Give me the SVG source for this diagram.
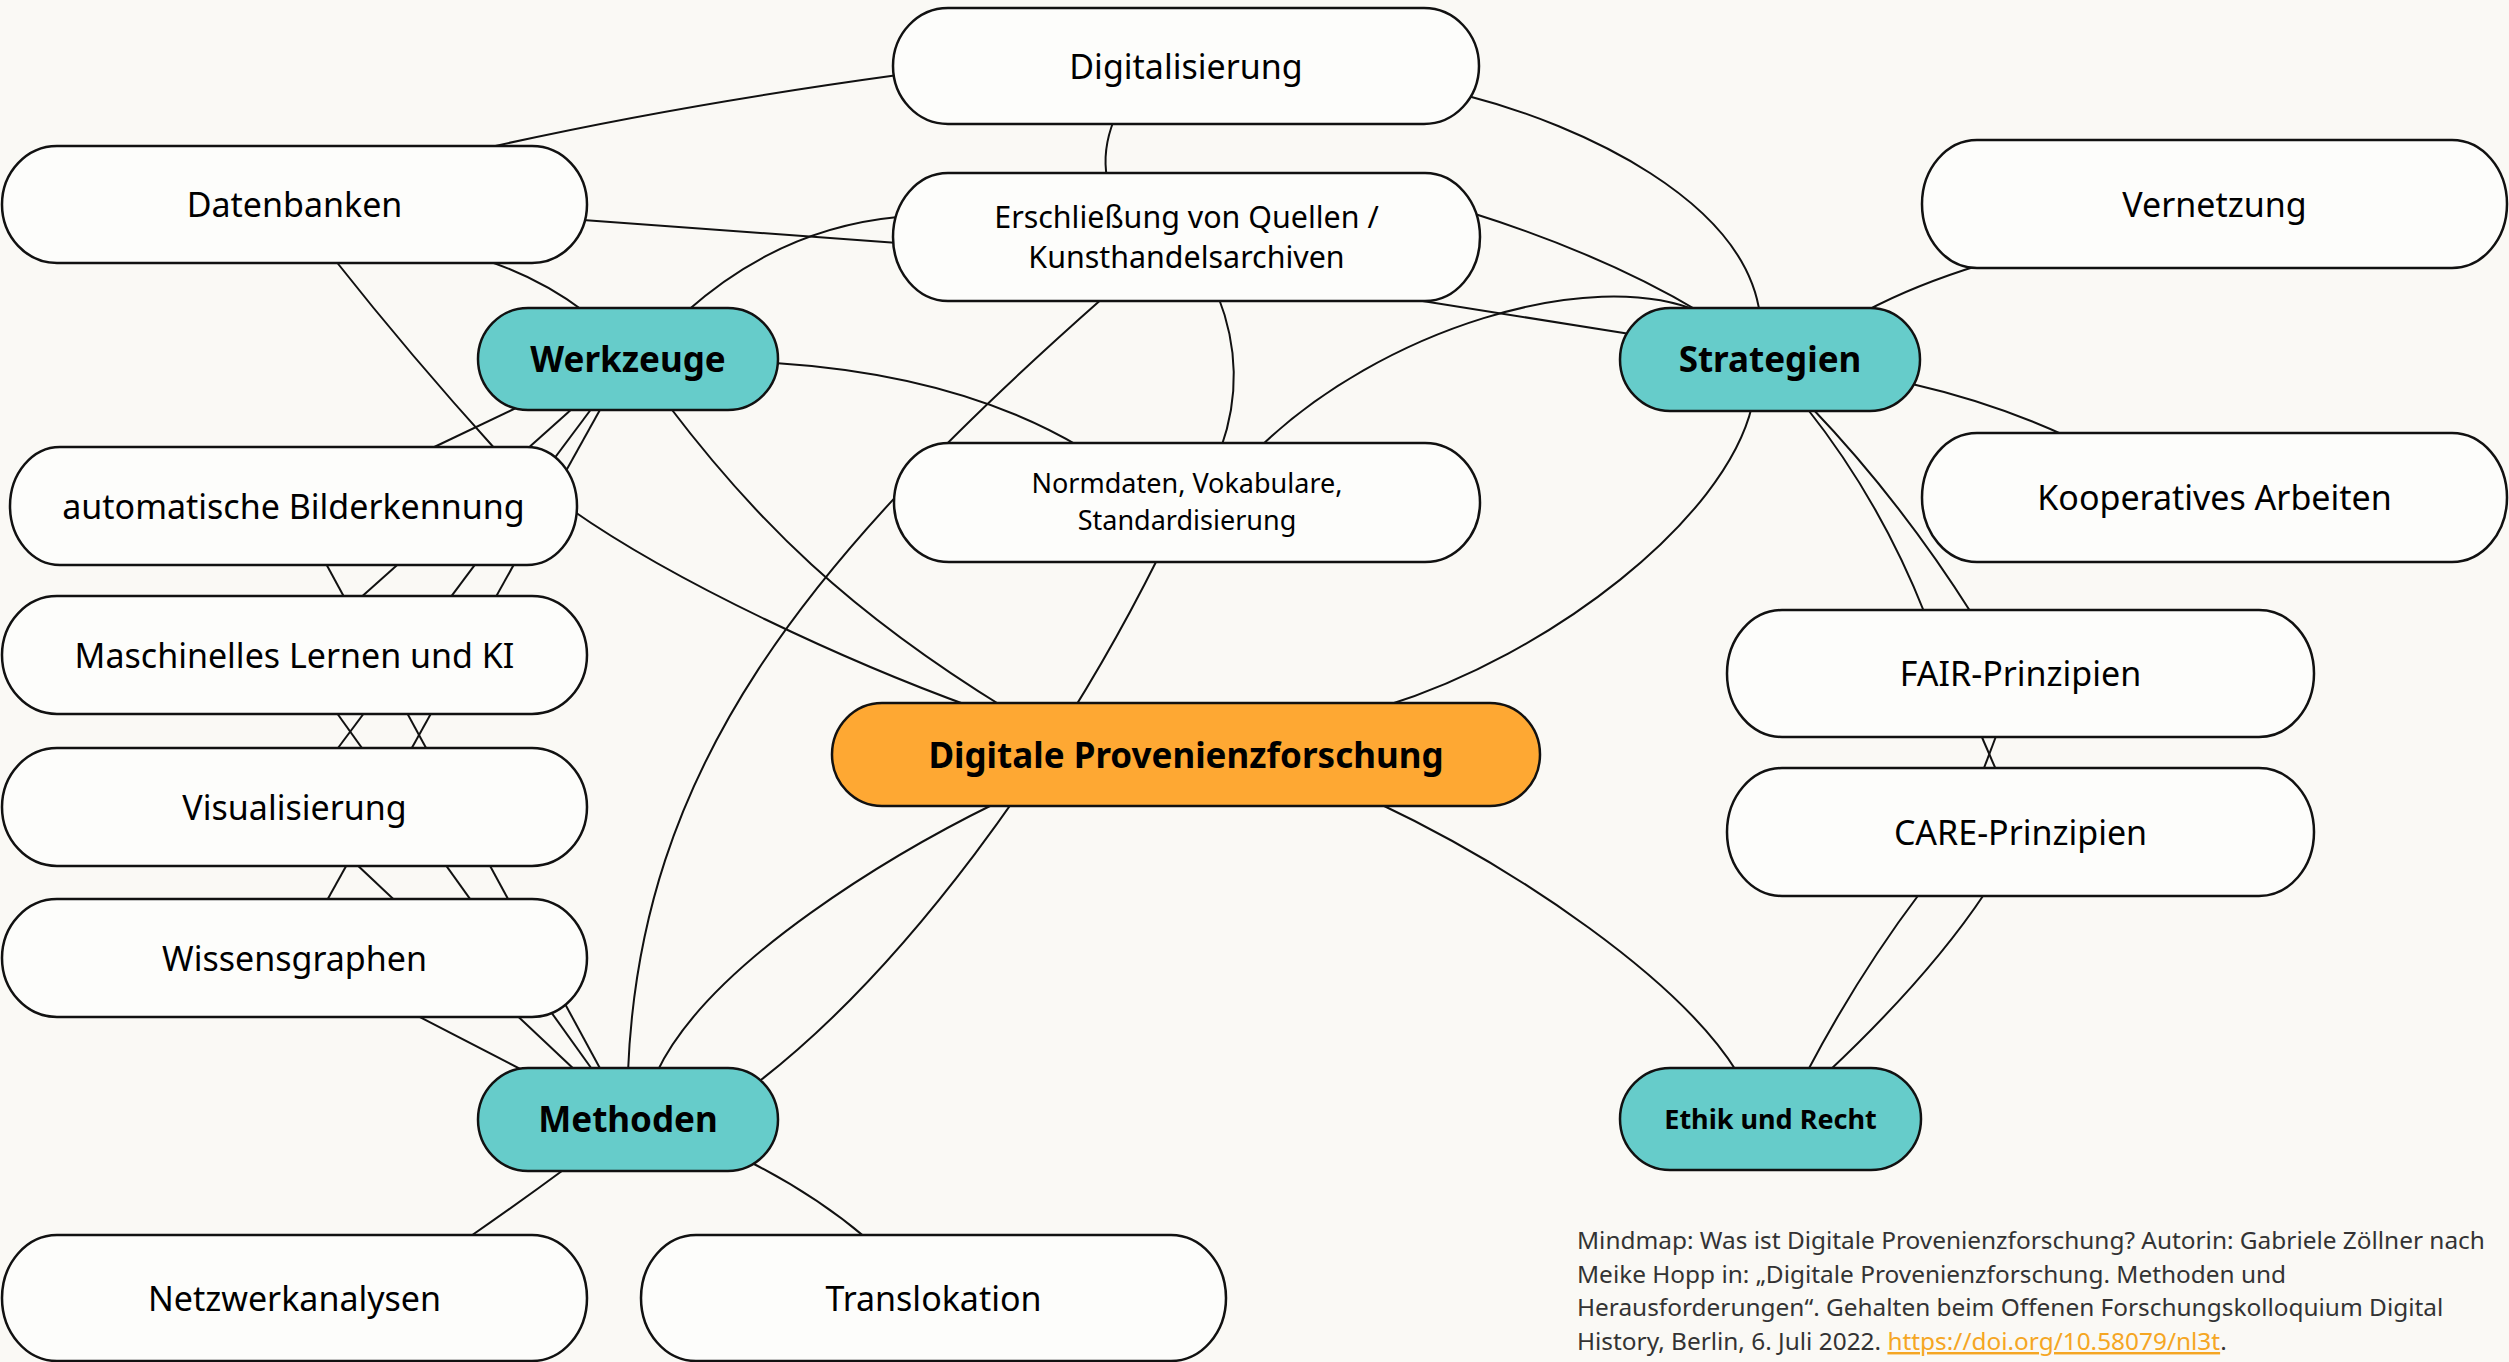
<svg xmlns="http://www.w3.org/2000/svg" width="2509" height="1362" viewBox="0 0 2509 1362">
<style>
.bg{fill:#FAF9F5}
.c{fill:none;stroke:#111;stroke-width:2}
.leaf{fill:#FDFDFB;stroke:#111;stroke-width:2.5}
.hub{fill:#66CCCA;stroke:#111;stroke-width:2.5}
.core{fill:#FEA833;stroke:#111;stroke-width:2.5}
text{font-family:"Noto Sans","Open Sans","DejaVu Sans",sans-serif;fill:#000;text-anchor:middle}
.t{font-size:34px}
.tb{font-size:35px;font-weight:700}
.foot{font-size:24.4px;fill:#333;text-anchor:start}
.link{fill:#F5A623;text-decoration:underline}
</style>
<rect class="bg" x="0" y="0" width="2509" height="1362"/>
<g id="connectors">
<path class="c" d="M486,148 Q672,106 898,75"/>
<path class="c" d="M1114,120 Q1102,150 1107,178"/>
<path class="c" d="M1468,96 C1580,125 1745,200 1760,315"/>
<path class="c" d="M583,220 L898,243"/>
<path class="c" d="M686,312 Q780,228 898,217"/>
<path class="c" d="M485,260 Q540,278 585,312"/>
<path class="c" d="M335,260 Q410,355 496,450"/>
<path class="c" d="M775,363 Q960,375 1082,448"/>
<path class="c" d="M1472,213 Q1605,255 1700,312"/>
<path class="c" d="M1410,299 L1630,334"/>
<path class="c" d="M1259,448 C1380,330 1590,265 1700,312"/>
<path class="c" d="M1218,296 Q1248,372 1221,448"/>
<path class="c" d="M1104,297 C804,562 640,768 628,1072"/>
<path class="c" d="M669,406 C757,522 849,612 1005,708"/>
<path class="c" d="M572,510 C676,583 848,662 972,707"/>
<path class="c" d="M518,407 L428,450"/>
<path class="c" d="M573,408 L358,600"/>
<path class="c" d="M592,408 L335,752"/>
<path class="c" d="M601,408 L325,904"/>
<path class="c" d="M412,1013 L528,1073"/>
<path class="c" d="M354,862 L577,1072"/>
<path class="c" d="M334,709 L594,1072"/>
<path class="c" d="M324,560 L602,1072"/>
<path class="c" d="M1752,406 C1725,520 1550,655 1385,706"/>
<path class="c" d="M1376,802 C1520,870 1680,980 1737,1072"/>
<path class="c" d="M996,803 C900,850 710,960 657,1072"/>
<path class="c" d="M1158,558 C1056,762 904,970 757,1083"/>
<path class="c" d="M1866,311 Q1915,285 1980,265"/>
<path class="c" d="M1912,384 Q1995,403 2068,437"/>
<path class="c" d="M1806,407 Q1880,500 1925,614"/>
<path class="c" d="M1811,407 Q1900,500 1972,614"/>
<path class="c" d="M1981,735 L1997,772"/>
<path class="c" d="M1996.5,735 L1982.5,772"/>
<path class="c" d="M1920,893 Q1858,975 1807,1072"/>
<path class="c" d="M1985,893 Q1929,977 1828,1072"/>
<path class="c" d="M566,1168 Q520,1202 468,1238"/>
<path class="c" d="M750,1162 Q815,1195 866,1238"/>
</g>
<g id="digitalisierung"><rect class="leaf" x="893" y="8" width="586" height="116" rx="55" ry="58"/><text class="t" x="1186" y="79">Digitalisierung</text></g>
<g id="erschliessung"><rect class="leaf" x="893" y="173" width="587" height="128" rx="55" ry="64"/><text x="1186.5" y="228" style="font-size:30.4px">Erschließung von Quellen /</text><text x="1186.5" y="268" style="font-size:30.4px">Kunsthandelsarchiven</text></g>
<g id="datenbanken"><rect class="leaf" x="2" y="146" width="585" height="117" rx="55" ry="58.5"/><text class="t" x="294.5" y="217">Datenbanken</text></g>
<g id="werkzeuge"><rect class="hub" x="478" y="308" width="300" height="102" rx="50" ry="51"/><text class="tb" x="628" y="372">Werkzeuge</text></g>
<g id="strategien"><rect class="hub" x="1620" y="308" width="300" height="103" rx="50" ry="51.5"/><text class="tb" x="1770" y="372">Strategien</text></g>
<g id="vernetzung"><rect class="leaf" x="1922" y="140" width="585" height="128" rx="55" ry="64"/><text class="t" x="2214.5" y="217">Vernetzung</text></g>
<g id="kooperatives"><rect class="leaf" x="1922" y="433" width="585" height="129" rx="55" ry="64.5"/><text class="t" x="2214.5" y="510">Kooperatives Arbeiten</text></g>
<g id="normdaten"><rect class="leaf" x="894" y="443" width="586" height="119" rx="55" ry="59.5"/><text x="1187" y="493" style="font-size:27px">Normdaten, Vokabulare,</text><text x="1187" y="530" style="font-size:27px">Standardisierung</text></g>
<g id="digitale-provenienzforschung"><rect class="core" x="832" y="703" width="708" height="103" rx="50" ry="51.5"/><text class="tb" x="1186" y="768">Digitale Provenienzforschung</text></g>
<g id="bilderkennung"><rect class="leaf" x="10" y="447" width="567" height="118" rx="50" ry="59"/><text class="t" x="293.5" y="519">automatische Bilderkennung</text></g>
<g id="maschinelles-lernen"><rect class="leaf" x="2" y="596" width="585" height="118" rx="55" ry="59"/><text class="t" x="294.5" y="668">Maschinelles Lernen und KI</text></g>
<g id="visualisierung"><rect class="leaf" x="2" y="748" width="585" height="118" rx="55" ry="59"/><text class="t" x="294.5" y="820">Visualisierung</text></g>
<g id="wissensgraphen"><rect class="leaf" x="2" y="899" width="585" height="118" rx="55" ry="59"/><text class="t" x="294.5" y="971">Wissensgraphen</text></g>
<g id="methoden"><rect class="hub" x="478" y="1068" width="300" height="103" rx="50" ry="51.5"/><text class="tb" x="628" y="1132">Methoden</text></g>
<g id="netzwerkanalysen"><rect class="leaf" x="2" y="1235" width="585" height="126" rx="55" ry="63"/><text class="t" x="294.5" y="1311">Netzwerkanalysen</text></g>
<g id="translokation"><rect class="leaf" x="641" y="1235" width="585" height="126" rx="55" ry="63"/><text class="t" x="933.5" y="1311">Translokation</text></g>
<g id="fair"><rect class="leaf" x="1727" y="610" width="587" height="127" rx="55" ry="63.5"/><text class="t" x="2020.5" y="686">FAIR-Prinzipien</text></g>
<g id="care"><rect class="leaf" x="1727" y="768" width="587" height="128" rx="55" ry="64"/><text class="t" x="2020.5" y="845">CARE-Prinzipien</text></g>
<g id="ethik"><rect class="hub" x="1620" y="1068" width="301" height="102" rx="50" ry="51"/><text x="1770.5" y="1129" style="font-size:27px;font-weight:700">Ethik und Recht</text></g>
<g id="caption">
<text class="foot" x="1577" y="1249">Mindmap: Was ist Digitale Provenienzforschung? Autorin: Gabriele Zöllner nach</text>
<text class="foot" x="1577" y="1283">Meike Hopp in: „Digitale Provenienzforschung. Methoden und</text>
<text class="foot" x="1577" y="1316">Herausforderungen“. Gehalten beim Offenen Forschungskolloquium Digital</text>
<text class="foot" x="1577" y="1350">History, Berlin, 6. Juli 2022. <tspan class="link">https://doi.org/10.58079/nl3t</tspan>.</text>
</g>
</svg>
